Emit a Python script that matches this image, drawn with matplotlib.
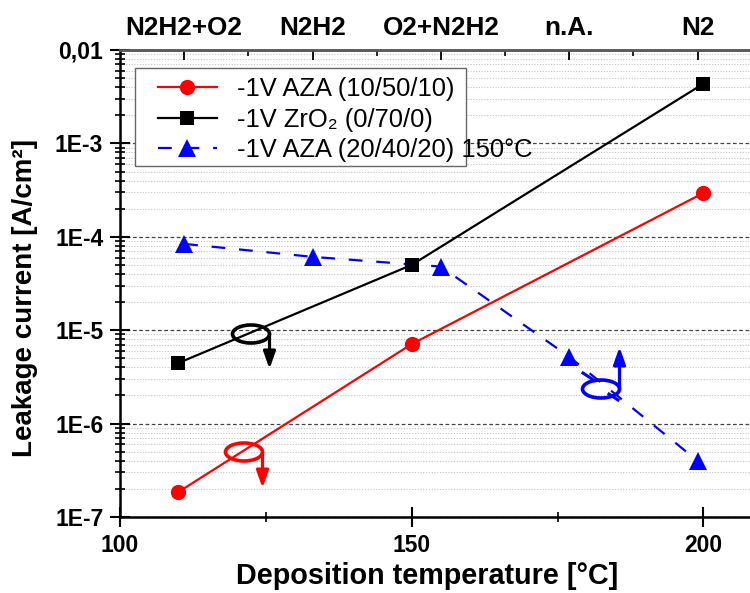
import numpy as np
import matplotlib
matplotlib.use("Agg")
import matplotlib.pyplot as plt
from matplotlib.patches import Ellipse, Rectangle
from matplotlib.lines import Line2D
from matplotlib.ticker import LogLocator, NullFormatter, FixedLocator, FixedFormatter, MultipleLocator

plt.rcParams['font.family'] = ['Liberation Sans', 'DejaVu Sans']

# ---- data ----
temp_aza = [110, 150, 200]
leak_aza = [1.85e-7, 7.1e-6, 2.94e-4]
temp_zro2 = [110, 150, 200]
leak_zro2 = [4.45e-6, 5.0e-5, 4.35e-3]
temp_aza150 = [111, 133, 155, 177, 199]
leak_aza150 = [8.4e-5, 6.1e-5, 4.8e-5, 5.2e-6, 4.0e-7]
top_labels = ['N2H2+O2', 'N2H2', 'O2+N2H2', 'n.A.', 'N2']
ytick_vals = [1e-7, 1e-6, 1e-5, 1e-4, 1e-3, 1e-2]
ytick_labels = ['1E-7', '1E-6', '1E-5', '1E-4', '1E-3', '0,01']
xtick_vals = [100, 150, 200]
series_labels = ['-1V AZA (10/50/10)', '-1V ZrO\u2082 (0/70/0)', '-1V AZA (20/40/20) 150\u00b0C']

fig = plt.figure(figsize=(7.5, 5.93), dpi=100)
L, B, W, H = 120/750, 1-517/593, 630/750, 467/593
ax = fig.add_axes([L, B, W, H])

ax.set_yscale('log')
ax.set_xlim(100, 208)
ax.set_ylim(1e-7, 1e-2)

blu, = ax.plot(temp_aza150, leak_aza150, color='#0000ff', lw=1.6, ls=(0, (6.2, 6.2)), marker='^', ms=13, mew=0, zorder=2)
red, = ax.plot(temp_aza, leak_aza, '-', color='#ff0000', lw=1.6, marker='o', ms=11, mew=0, zorder=3)
blk, = ax.plot(temp_zro2, leak_zro2, '-', color='black', lw=1.6, marker='s', ms=10.5, mew=0, zorder=3)

# grid
ax.yaxis.grid(True, which='major', ls=(0, (3, 2)), color='#444444', lw=0.9)
ax.yaxis.grid(True, which='minor', ls=(0, (1, 1.5)), color='#c4c4c4', lw=0.8)
ax.set_axisbelow(True)

# y ticks
ax.yaxis.set_major_locator(FixedLocator(ytick_vals))
ax.yaxis.set_major_formatter(FixedFormatter(ytick_labels))
ax.yaxis.set_minor_locator(LogLocator(base=10, subs=np.arange(2, 10)))
ax.yaxis.set_minor_formatter(NullFormatter())
# x ticks
ax.xaxis.set_major_locator(FixedLocator(xtick_vals))
ax.xaxis.set_minor_locator(MultipleLocator(25))

ax.tick_params(which='major', direction='inout', length=14, width=1.5, labelsize=16.5, pad=5)
ax.tick_params(which='minor', direction='inout', length=7, width=1.2)
for lab in ax.get_xticklabels() + ax.get_yticklabels():
    lab.set_fontweight('bold')

for s in ['top', 'right']:
    ax.spines[s].set_visible(False)
for s in ['left', 'bottom']:
    ax.spines[s].set_linewidth(1.8)

ax.set_xlabel('Deposition temperature [\u00b0C]', fontsize=20.7, fontweight='bold')
ax.xaxis.set_label_coords((427 - 120) / 630, (517 - 590) / 467)
ax.xaxis.label.set_va('bottom')
ax.set_ylabel('Leakage current [A/cm\u00b2]', fontsize=20, fontweight='bold')
ax.yaxis.set_label_coords((38 - 120) / 630, (517 - 298) / 467)

# top axis
ax2 = ax.twiny()
ax2.set_xlim(ax.get_xlim())
ax2.xaxis.set_major_locator(FixedLocator(temp_aza150))
ax2.xaxis.set_major_formatter(FixedFormatter(top_labels))
t = np.array(temp_aza150, dtype=float)
mids = list((t[:-1] + t[1:]) / 2)
ax2.xaxis.set_minor_locator(FixedLocator(mids))
ax2.tick_params(axis='x', which='major', direction='in', length=7, width=1.3, labelsize=18.8, pad=7)
ax2.tick_params(axis='x', which='minor', direction='in', length=4.5, width=1.2)
for lab in ax2.get_xticklabels():
    lab.set_fontweight('bold')
for s in ['left', 'right', 'bottom']:
    ax2.spines[s].set_visible(False)
ax2.spines['top'].set_color('#555555')
ax2.spines['top'].set_linewidth(2)

def af(px, py):
    return ((px - 120) / 630, (517 - py) / 467)

# legend frame (drawn separately for exact padding) + frameless legend
x0, y0 = af(135, 166)
x1, y1 = af(466, 68)
ax.add_patch(Rectangle((x0, y0), x1 - x0, y1 - y0, transform=ax.transAxes, facecolor='white',
                       edgecolor='#666666', lw=1.0, zorder=4.8))
leg = ax.legend([red, blk, blu], series_labels, loc='upper left', bbox_to_anchor=af(158, 77),
                borderaxespad=0, fontsize=18.4, frameon=False,
                handlelength=2.3, handletextpad=0.8, borderpad=0.0, labelspacing=0.26)
leg.set_zorder(5)

# annotations (ellipses with arrows), placed in axes-fraction coords
def loop_arrow(cx, cy, tipy, color):
    e = Ellipse(af(cx, cy), 37/630, 18/467, transform=ax.transAxes, fill=False, ec=color, lw=2.6, zorder=4)
    ax.add_patch(e)
    sx = cx + 18.5
    ax.annotate('', xy=af(sx, tipy), xytext=af(sx, cy), xycoords='axes fraction', textcoords='axes fraction',
                arrowprops=dict(arrowstyle='-|>,head_length=0.85,head_width=0.3', color=color, lw=2.3,
                                mutation_scale=12, shrinkA=0, shrinkB=0), zorder=4)

loop_arrow(251, 334, 369, 'black')
loop_arrow(244, 452, 488, '#ff0000')
loop_arrow(601, 389, 347, '#0000ff')
for (xa, ya, xb, yb) in [(583, 373, 592, 379), (609, 394, 618, 400)]:
    p0, p1 = af(xa, ya), af(xb, yb)
    ax.add_line(Line2D([p0[0], p1[0]], [p0[1], p1[1]], transform=ax.transAxes, color='#0000ff', lw=2.2, zorder=4))

fig.savefig('out.png', dpi=100)
